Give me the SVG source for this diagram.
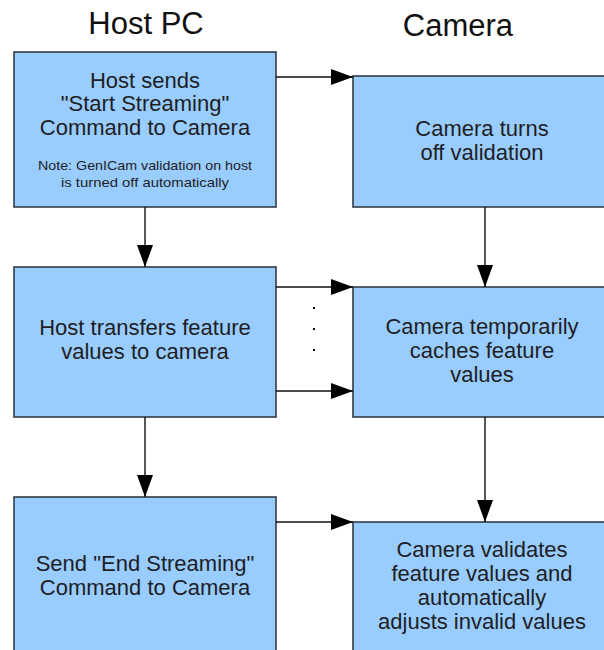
<svg xmlns="http://www.w3.org/2000/svg" width="604" height="650" viewBox="0 0 604 650">
<defs>
<style>
.box{fill:#99ccff;stroke:#333b47;stroke-width:1.6}
.t{font-family:"Liberation Sans",Arial,sans-serif;font-size:22px;fill:#1e1e24;text-anchor:middle}
.n{font-family:"Liberation Sans",Arial,sans-serif;font-size:13px;fill:#1e1e24;text-anchor:middle}
.h{font-family:"Liberation Sans",Arial,sans-serif;font-size:31px;fill:#111;text-anchor:middle}
.c{stroke:#111;stroke-width:1.4;fill:none}
</style>
<marker id="ah" viewBox="0 0 22 16" refX="22" refY="8" markerWidth="22" markerHeight="16" markerUnits="userSpaceOnUse" orient="auto">
<path d="M0,0 L22,8 L0,16 Z" fill="#000"/>
</marker>
</defs>
<rect width="604" height="650" fill="#fff"/>
<g id="titles">
<text class="h" x="146" y="34">Host PC</text>
<text class="h" x="458" y="36">Camera</text>
</g>
<g id="host1">
<rect class="box" x="14" y="52" width="262" height="155"/>
<text class="t" x="145" y="88">Host sends</text>
<text class="t" x="145" y="111">"Start Streaming"</text>
<text class="t" x="145" y="135">Command to Camera</text>
<text class="n" x="145" y="170" textLength="214" lengthAdjust="spacingAndGlyphs">Note: GenICam validation on host</text>
<text class="n" x="145" y="187" textLength="168" lengthAdjust="spacingAndGlyphs">is turned off automatically</text>
</g>
<g id="cam1">
<rect class="box" x="353" y="76" width="262" height="131"/>
<text class="t" x="482" y="136">Camera turns</text>
<text class="t" x="482" y="160">off validation</text>
</g>
<g id="host2">
<rect class="box" x="14" y="267" width="262" height="150"/>
<text class="t" x="145" y="335">Host transfers feature</text>
<text class="t" x="145" y="359">values to camera</text>
</g>
<g id="cam2">
<rect class="box" x="353" y="287" width="262" height="130"/>
<text class="t" x="482" y="334">Camera temporarily</text>
<text class="t" x="482" y="358">caches feature</text>
<text class="t" x="482" y="382">values</text>
</g>
<g id="host3">
<rect class="box" x="14" y="497" width="262" height="160"/>
<text class="t" x="145" y="571">Send "End Streaming"</text>
<text class="t" x="145" y="595">Command to Camera</text>
</g>
<g id="cam3">
<rect class="box" x="353" y="522" width="262" height="135"/>
<text class="t" x="482" y="557">Camera validates</text>
<text class="t" x="482" y="581">feature values and</text>
<text class="t" x="482" y="605">automatically</text>
<text class="t" x="482" y="629">adjusts invalid values</text>
</g>
<g id="connectors">
<line class="c" x1="276" y1="77" x2="353" y2="77" marker-end="url(#ah)"/>
<line class="c" x1="145" y1="207" x2="145" y2="267" marker-end="url(#ah)"/>
<line class="c" x1="485" y1="207" x2="485" y2="287" marker-end="url(#ah)"/>
<line class="c" x1="276" y1="287" x2="353" y2="287" marker-end="url(#ah)"/>
<line class="c" x1="276" y1="391" x2="353" y2="391" marker-end="url(#ah)"/>
<line class="c" x1="145" y1="417" x2="145" y2="497" marker-end="url(#ah)"/>
<line class="c" x1="485" y1="417" x2="485" y2="522" marker-end="url(#ah)"/>
<line class="c" x1="276" y1="522" x2="353" y2="522" marker-end="url(#ah)"/>
</g>
<g id="dots" fill="#000">
<rect x="313" y="307" width="2" height="2"/>
<rect x="313" y="328" width="2" height="2"/>
<rect x="313" y="349" width="2" height="2"/>
</g>
</svg>
